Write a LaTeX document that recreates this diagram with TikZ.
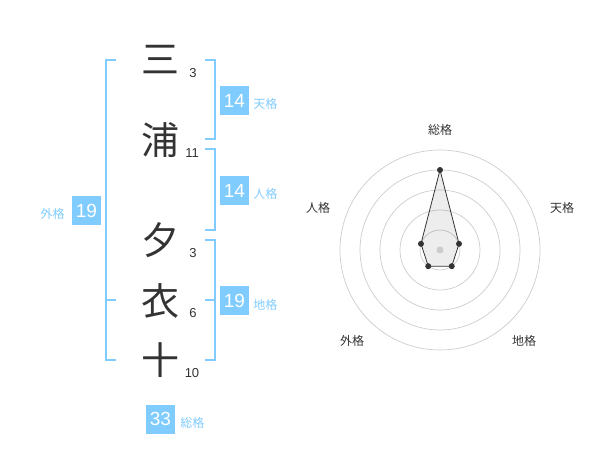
\documentclass[tikz,border=0pt]{standalone}
\usepackage{fontspec}
\setmainfont{Liberation Sans}
\newfontfamily\jpfont{Noto Sans CJK JP}
\usetikzlibrary{positioning}
\definecolor{kakublue}{RGB}{128,204,255}
\definecolor{inkgray}{RGB}{51,51,51}
\definecolor{ringgray}{RGB}{204,204,204}

\begin{document}
\begin{tikzpicture}[x=1pt,y=-1pt]
        % Define styles for shapes
        \tikzstyle{kanji} = [text=inkgray, inner sep=0pt, font=\jpfont\fontsize{38}{38}\selectfont]
        \tikzstyle{strokes} = [text=inkgray, inner sep=0pt, font=\fontsize{13}{13}\selectfont]
        \tikzstyle{kakubox} = [fill=kakublue, text=white, minimum width=29pt, minimum height=29pt, inner sep=0pt, font=\fontsize{19}{19}\selectfont]
        \tikzstyle{kakulabel} = [text=kakublue, inner sep=0pt, font=\jpfont\fontsize{12}{12}\selectfont]
        \tikzstyle{bracket} = [draw=kakublue, line width=2pt]
        \tikzstyle{axislabel} = [text=inkgray, inner sep=0pt, font=\jpfont\fontsize{12}{12}\selectfont]
        \useasboundingbox (0,0) rectangle (600,470);

        % Draw the name
        \node[kanji] (c1) at (160,60) {三};
        \node[kanji] (c2) at (160,140) {浦};
        \node[kanji] (c3) at (160,240) {夕};
        \node[kanji] (c4) at (160,301) {衣};
        \node[kanji] (c5) at (160,360) {十};
        % stroke counts
        \node[strokes] (n1) at (193,73) {3};
        \node[strokes] (n2) at (192,153) {11};
        \node[strokes] (n3) at (193,253) {3};
        \node[strokes] (n4) at (193,313) {6};
        \node[strokes] (n5) at (192,373) {10};

        % Draw brackets
        \draw[bracket] (116,60) -- (106,60) -- (106,360) -- (116,360);
        \draw[bracket] (106,300) -- (116,300);
        \draw[bracket] (205,60) -- (215,60) -- (215,139) -- (205,139);
        \draw[bracket] (205,149) -- (215,149) -- (215,230) -- (205,230);
        \draw[bracket] (205,240) -- (215,240) -- (215,360) -- (205,360);
        \draw[bracket] (205,300) -- (215,300);

        % Draw boxes
        \node[kakubox] (ten) at (234.5,100.5) {14};
        \node[kakulabel, right=4pt of ten, yshift=-3.5pt] (tenlabel) {天格};
        \node[kakubox] (jin) at (234.5,190.5) {14};
        \node[kakulabel, right=4pt of jin, yshift=-3.5pt] (jinlabel) {人格};
        \node[kakubox] (chi) at (234.5,301) {19};
        \node[kakulabel, right=4pt of chi, yshift=-3.5pt] (chilabel) {地格};
        \node[kakubox] (gai) at (86.5,211) {19};
        \node[kakulabel, left=7pt of gai, yshift=-3pt] (gailabel) {外格};
        \node[kakubox] (sou) at (160.5,419) {33};
        \node[kakulabel, right=5pt of sou, yshift=-3.5pt] (soulabel) {総格};

        % Draw the radar chart
        \begin{scope}[shift={(440,250)}, y=1pt]
            \foreach \r in {20,40,...,100}
                \draw[ringgray, line width=0.7pt] (0,0) circle (\r pt);
            \coordinate (p1) at (90:80pt);
            \coordinate (p2) at (18:20pt);
            \coordinate (p3) at (-54:20pt);
            \coordinate (p4) at (-126:20pt);
            \coordinate (p5) at (162:20pt);
            \filldraw[fill=black, fill opacity=0.07, draw=inkgray, line width=0.8pt] (p1) -- (p2) -- (p3) -- (p4) -- (p5) -- cycle;
            \fill[ringgray] (0,0) circle (3.5pt);
            \foreach \p in {p1,p2,p3,p4,p5}
                \fill[inkgray] (\p) circle (3pt);
        \end{scope}
        \node[axislabel] (sougaku) at (440,130) {総格};
        \node[axislabel] (tengaku) at (562,208) {天格};
        \node[axislabel] (chigaku) at (524,341) {地格};
        \node[axislabel] (gaigaku) at (352,341) {外格};
        \node[axislabel] (jingaku) at (318,208) {人格};
    \end{tikzpicture}
\end{document}
